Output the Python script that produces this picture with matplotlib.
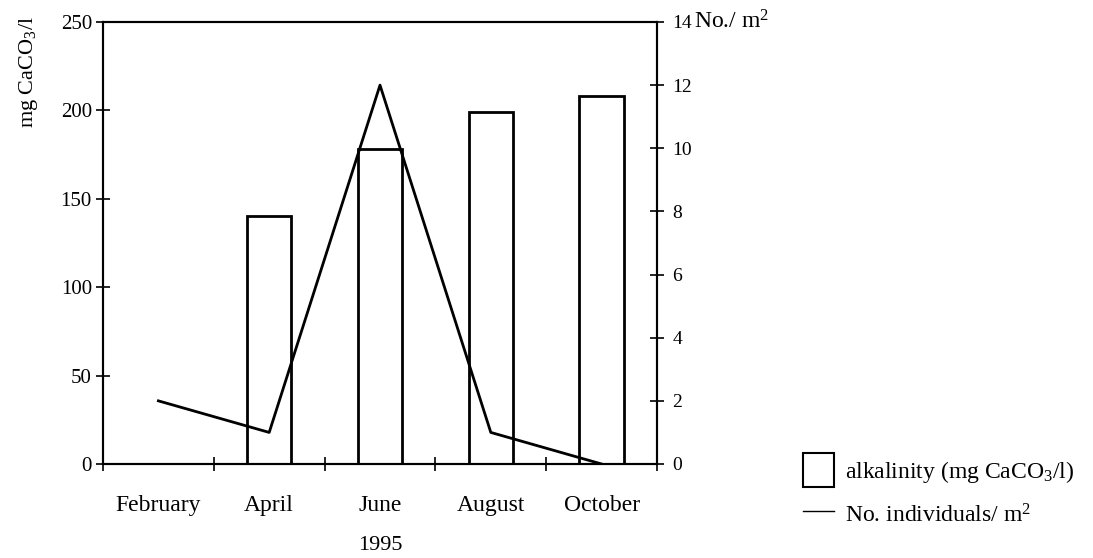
import numpy as np
import matplotlib
matplotlib.use("Agg")
import matplotlib.pyplot as plt
from matplotlib.patches import Patch
from matplotlib.lines import Line2D

plt.rcParams['font.family'] = ['Liberation Serif', 'DejaVu Serif']
plt.rcParams['mathtext.fontset'] = 'custom'
plt.rcParams['mathtext.rm'] = 'Liberation Serif'
plt.rcParams['mathtext.it'] = 'Liberation Serif:italic'

# data
months = ['February', 'April', 'June', 'August', 'October']
alkalinity = [0, 140, 178, 199, 208]          # mg CaCO3/l, no bar for February
individuals = [2.0, 1.0, 12.0, 1.0, 0.0]      # No./m2
left_ticks = [0, 50, 100, 150, 200, 250]
right_ticks = [0, 2, 4, 6, 8, 10, 12, 14]

fig = plt.figure(figsize=(10.93, 5.58), dpi=100)
ax = fig.add_axes([103/1093, 1 - 464/558, (657 - 103)/1093, (464 - 22)/558])
ax2 = ax.twinx()

x = np.arange(len(months))
ax.bar(x, alkalinity, width=0.4, facecolor='white', edgecolor='black', linewidth=2)
ax2.plot(x, individuals, color='black', linewidth=2)

ax.set_xlim(-0.5, len(months) - 0.5)
ax.set_ylim(0, 250)
ax2.set_ylim(0, 14)

ax.set_xticks(np.arange(-0.5, len(months)), minor=False)
ax.set_xticklabels([])
ax.set_xticks(x, minor=True)
ax.set_xticklabels(months, minor=True, fontsize=17)
ax.tick_params(axis='x', which='major', direction='inout', length=10, width=1.2)
ax.tick_params(axis='x', which='minor', length=0, pad=22)

ax.set_yticks(left_ticks)
ax.tick_params(axis='y', direction='inout', length=10, width=1.2, labelsize=15, pad=3)
ax2.set_yticks(right_ticks)
ax2.tick_params(axis='y', direction='inout', length=10, width=1.2, labelsize=14, pad=6)

for sp in list(ax.spines.values()) + list(ax2.spines.values()):
    sp.set_linewidth(1.5)

fig.text(694/1093, 1 - 22/558, 'No./ m$^2$', ha='left', va='center', fontsize=17)
fig.text(28/1093, 1 - 72/558, 'mg CaCO$_3$/l', rotation=90, ha='center', va='center', fontsize=16)
fig.text(380/1093, 1 - 546/558, '1995', ha='center', va='center', fontsize=16)

handles = [Patch(facecolor='white', edgecolor='black', linewidth=1.5),
           Line2D([0], [0], color='black', linewidth=1)]
labels = ['alkalinity (mg CaCO$_3$/l)', 'No. individuals/ m$^2$']
fig.legend(handles, labels, loc='upper left', bbox_to_anchor=(782/1093, 1 - 432/558),
           frameon=False, fontsize=17, handlelength=1.3, handleheight=1.8,
           handletextpad=0.45, labelspacing=0.5)

fig.savefig('out.png', dpi=100)
